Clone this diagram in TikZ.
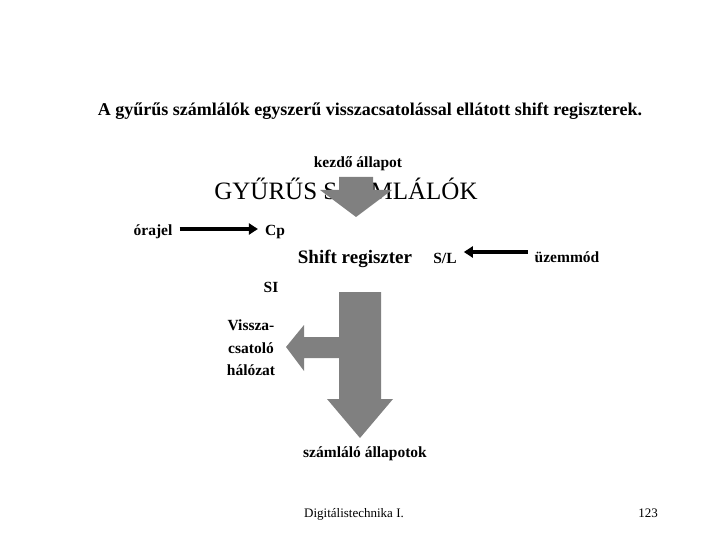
\documentclass[tikz,border=0pt]{standalone}
\usepackage{fontspec}
\setmainfont{Liberation Serif}
\usepackage{tikz}
\usetikzlibrary{arrows.meta, calc}
\definecolor{arrowgray}{RGB}{128,128,128}
\tikzset{
	label/.style={anchor=base, inner sep=2pt, font=\fontsize{15.5}{18}\selectfont\bfseries},
	plain/.style={anchor=base, inner sep=2pt, font=\fontsize{13}{15}\selectfont},
	fatarrow/.style={fill=arrowgray, draw=none},
	arr/.style={line width=3.4pt, shorten <=5pt, shorten >=5pt, -{Triangle[length=9pt, width=11pt]}}
}

\begin{document}
\begin{tikzpicture}[x=1pt, y=-1pt]
        \useasboundingbox (0,0) rectangle (720,540);

        \node[label, font=\fontsize{18}{21}\selectfont\bfseries] (title) at (370, 116) {A gyűrűs számlálók egyszerű visszacsatolással ellátott shift regiszterek.};
        \node[label] (start) at (358, 168) {kezdő állapot};
        \node[plain, font=\fontsize{25}{28}\selectfont] (ring) at (346, 200) {GYŰRŰS SZÁMLÁLÓK};

        % kezdo allapot -> regiszter
        \fill[fatarrow] (339,177) -- (373,177) -- (373,190) -- (392,190) -- (356,217)
            -- (320,190) -- (339,190) -- cycle;

        \node[label] (clk) at (153, 236) {órajel};
        \node[label] (cp) at (275, 236) {Cp};
        \node[label, font=\fontsize{19}{22}\selectfont\bfseries] (shreg) at (355, 263) {Shift regiszter};
        \node[label] (sl) at (445, 263) {S/L};
        \node[label] (mode) at (567, 262) {üzemmód};
        \node[label] (si) at (271, 292) {SI};

        \draw[arr] ([yshift=7pt]clk.base east) -- ([yshift=7pt]clk.base east -| cp.west);
        \draw[arr] ([yshift=10pt]mode.base west) -- ([yshift=10pt]mode.base west -| sl.east);

        % kimenet es visszacsatolas
        \fill[fatarrow] (339,292) -- (381,292) -- (381,399) -- (393,399) -- (360,438)
            -- (327,399) -- (339,399) -- (339,358) -- (304,358) -- (304,371) -- (286,347)
            -- (304,325) -- (304,337) -- (339,337) -- cycle;

        \node[label] (fb1) at (251, 330) {Vissza-};
        \node[label] (fb2) at (251, 353) {csatoló};
        \node[label] (fb3) at (251, 375) {hálózat};
        \node[label] (states) at (365, 457) {számláló állapotok};

        \node[plain] (footer) at (354, 517) {Digitálistechnika I.};
        \node[plain] (pagenum) at (648, 517) {123};
\end{tikzpicture}
\end{document}
